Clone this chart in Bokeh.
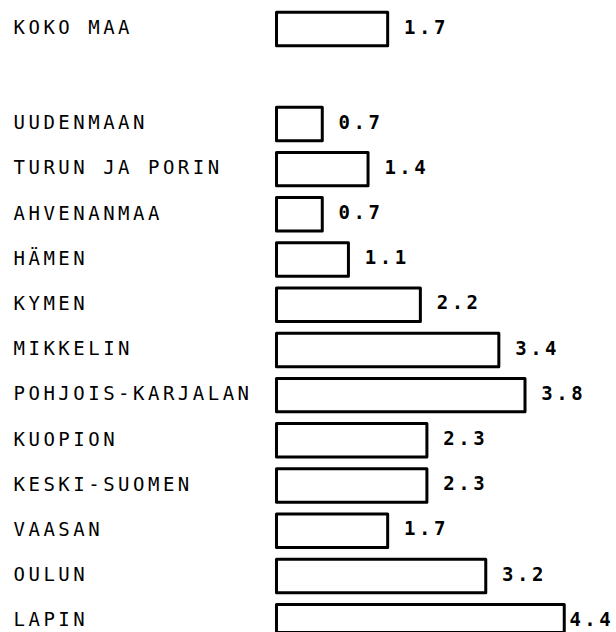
from bokeh.plotting import figure
from bokeh.models import Range1d, ColumnDataSource, InlineStyleSheet
from bokeh.embed import file_html
from bokeh.resources import INLINE
from bokeh.core.properties import value

# ---- data ----
total_label = "KOKO MAA"
total_value = 1.7
regions = ["UUDENMAAN", "TURUN JA PORIN", "AHVENANMAA", "HÄMEN", "KYMEN",
           "MIKKELIN", "POHJOIS-KARJALAN", "KUOPION", "KESKI-SUOMEN",
           "VAASAN", "OULUN", "LAPIN"]
region_values = [0.7, 1.4, 0.7, 1.1, 2.2, 3.4, 3.8, 2.3, 2.3, 1.7, 3.2, 4.4]

names = [total_label] + regions
vals = [total_value] + region_values
# row slots: total on top, a gap, then regions
slots = [0.0] + [2.1 + i for i in range(len(regions))]

X0, X1 = -4.22, 5.199
Y_BOTTOM, Y_TOP = 13.352, -0.6305

src = ColumnDataSource(dict(
    y=slots,
    v=vals,
    name=names,
    name_y=[s - 0.04 for s in slots],
    val_x=[min(v + 0.25, X1 - 0.72) for v in vals],
    val_y=[s - 0.05 for s in slots],
    val_txt=[f"{v:.1f}" for v in vals],
))

css = InlineStyleSheet(css=":host { letter-spacing: 3.5px; }")

p = figure(width=616, height=632, output_backend="svg", toolbar_location=None,
           x_range=Range1d(X0, X1), y_range=Range1d(Y_BOTTOM, Y_TOP),
           min_border=0, outline_line_color=None, background_fill_color="white",
           border_fill_color="white", stylesheets=[css])
p.axis.visible = False
p.xgrid.visible = False
p.ygrid.visible = False

p.hbar(y="y", left=0, right="v", height=0.74, source=src,
       fill_color="white", line_color="black", line_width=3, line_join="round")

font = value("DejaVu Sans Mono")
p.text(x=-4.021, y="name_y", text="name", source=src, text_font=font,
       text_font_size="19px", text_color="black", text_align="left",
       text_baseline="middle")
p.text(x="val_x", y="val_y", text="val_txt", source=src, text_font=font,
       text_font_size="19px", text_font_style="bold", text_color="black",
       text_align="left", text_baseline="middle")

open("out.html", "w").write(file_html(p, INLINE))
